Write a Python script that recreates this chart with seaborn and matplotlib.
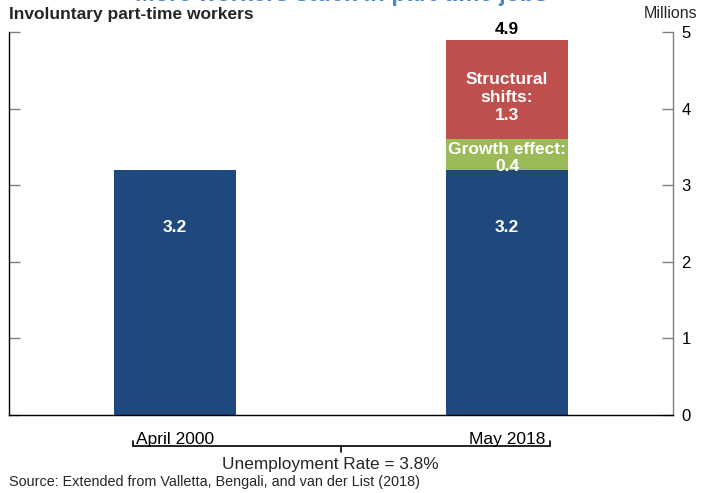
import matplotlib
matplotlib.use("Agg")
import matplotlib.pyplot as plt
import seaborn as sns
import pandas as pd
import numpy as np

categories = ["April 2000", "May 2018"]
base = [3.2, 3.2]
growth = [0.0, 0.4]
structural = [0.0, 1.3]
yticks = [0, 1, 2, 3, 4, 5]

sns.set_theme(style="white")
plt.rcParams['font.family'] = ['Liberation Sans', 'DejaVu Sans']

NAVY = "#1F497D"
GREEN = "#9BBB59"
RED = "#C0504D"

b = np.array(base)
g = b + np.array(growth)
t = g + np.array(structural)
df = pd.DataFrame({"cat": categories, "base": b, "grow": g, "total": t})

fig = plt.figure(figsize=(7.17, 4.93), dpi=100)
ax = fig.add_axes([9/717, 1 - 415/493, (673 - 9)/717, (415 - 32)/493])

W = 0.37
sns.barplot(data=df, x="cat", y="total", color=RED, width=W, linewidth=0, saturation=1, ax=ax)
sns.barplot(data=df, x="cat", y="grow", color=GREEN, width=W, linewidth=0, saturation=1, ax=ax)
sns.barplot(data=df, x="cat", y="base", color=NAVY, width=W, linewidth=0, saturation=1, ax=ax)

ax.set_xlim(-0.5, 1.5)
ax.set_ylim(0, 5)
ax.set_xlabel("")
ax.set_ylabel("")
ax.set_yticks(yticks)
ax.yaxis.set_ticks_position("both")
ax.tick_params(axis="y", direction="in", length=8, width=1, colors="#808080",
               left=True, right=True, labelleft=False, labelright=True,
               labelsize=12, labelcolor="black", pad=6)
ax.set_xticks([0, 1])
ax.set_xticklabels(categories)
ax.tick_params(axis="x", which="major", length=0, labelsize=12.5, pad=12, labelcolor="black")
ax.set_xticks([0.5], minor=True)
ax.tick_params(axis="x", which="minor", direction="in", length=6, width=1, color="#808080")

ax.spines["top"].set_visible(False)
ax.spines["bottom"].set_color("black")
ax.spines["left"].set_color("black")
ax.spines["right"].set_color("#808080")
for s in ["bottom", "left", "right"]:
    ax.spines[s].set_linewidth(1)

LBL = 12.5
# bar labels
for i in range(2):
    ax.text(i, 2.45, f"{base[i]:.1f}", color="white", fontsize=LBL, fontweight="bold",
            ha="center", va="center")
ax.text(1, 3.47, "Growth effect:", color="white", fontsize=LBL, fontweight="bold",
        ha="center", va="center")
ax.text(1, 3.24, f"{growth[1]:.1f}", color="white", fontsize=LBL, fontweight="bold",
        ha="center", va="center")
ax.text(1, 4.14, f"Structural\nshifts:\n{structural[1]:.1f}", color="white", fontsize=LBL,
        fontweight="bold", ha="center", va="center", linespacing=1.25)
ax.text(1, t[1] + 0.03, f"{t[1]:.1f}", color="black", fontsize=LBL, fontweight="bold",
        ha="center", va="bottom")

# texts
fig.text(9/717, 1 - 14/493, "Involuntary part-time workers", fontsize=12.5, fontweight="bold",
         ha="left", va="center")
fig.text(697/717, 1 - 14/493, "Millions", fontsize=11.5, ha="right", va="center")
fig.text(341/717, 1 - 6/493, "More workers stuck in part-time jobs", fontsize=17,
         fontweight="bold", color="#4A86C8", ha="center", va="bottom")
fig.text(330/717, 1 - 464/493, "Unemployment Rate = 3.8%", fontsize=12.4, ha="center", va="center")
fig.text(9/717, 1 - 482/493, "Source: Extended from Valletta, Bengali, and van der List (2018)",
         fontsize=10.4, ha="left", va="center")

# bracket
def fx(px):
    return px / 717
def fy(py):
    return 1 - py / 493
fig.add_artist(plt.Line2D([fx(133), fx(550)], [fy(446), fy(446)], color="black", lw=1.2))
fig.add_artist(plt.Line2D([fx(133), fx(133)], [fy(446), fy(441)], color="black", lw=1.2))
fig.add_artist(plt.Line2D([fx(550), fx(550)], [fy(446), fy(441)], color="black", lw=1.2))
fig.add_artist(plt.Line2D([fx(341), fx(341)], [fy(446), fy(452)], color="black", lw=1.2))

fig.savefig("out.png", dpi=100)
